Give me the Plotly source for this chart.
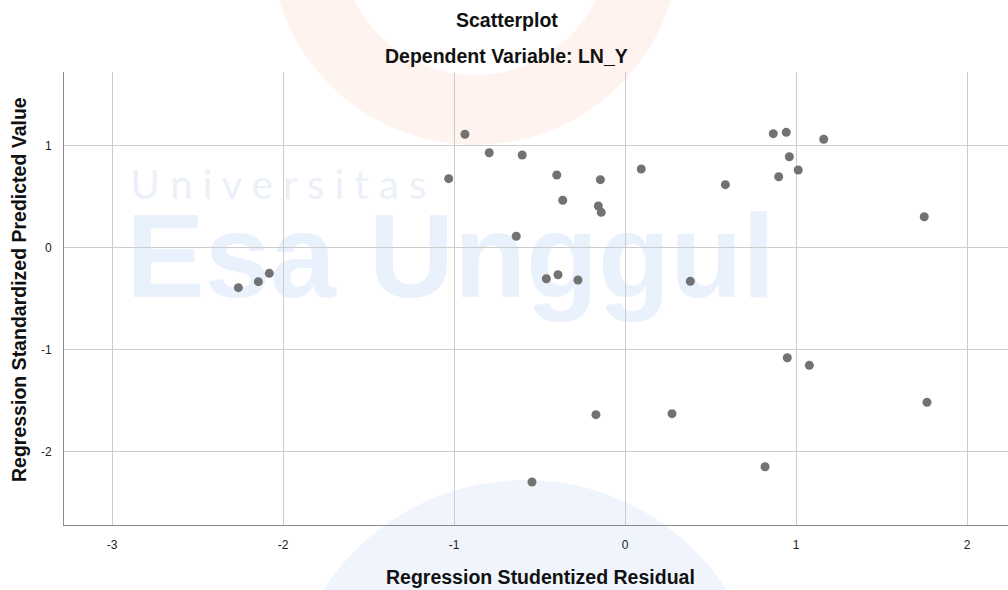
import plotly.graph_objects as go

# Data (Regression Studentized Residual vs Standardized Predicted Value)
studentized_residual = [
    -2.261, -2.144, -2.080, -1.031, -0.936, -0.794, -0.601, -0.399, -0.144, 0.095,
    0.587, -0.364, -0.156, -0.139, -0.636, -0.460, -0.392, -0.275, 0.382, 0.867,
    0.943, 1.162, 0.961, 1.013, 0.899, 1.750, 0.949, 1.078, 1.766, -0.170,
    0.275, 0.819, -0.544,
]
standardized_predicted = [
    -0.396, -0.337, -0.255, 0.673, 1.108, 0.927, 0.905, 0.709, 0.663, 0.768,
    0.614, 0.461, 0.405, 0.343, 0.108, -0.308, -0.269, -0.321, -0.333, 1.114,
    1.127, 1.059, 0.888, 0.758, 0.692, 0.300, -1.083, -1.157, -1.520, -1.641,
    -1.631, -2.151, -2.301,
]
x_ticks = [-3, -2, -1, 0, 1, 2]
y_ticks = [-2, -1, 0, 1]

title_text = "Scatterplot"
subtitle_text = "Dependent Variable: LN_Y"
x_title = "Regression Studentized Residual"
y_title = "Regression Standardized Predicted Value"

W, H = 1008, 590
ML, MR, MT, MB = 64, 0, 72, 65
PW, PH = W - ML - MR, H - MT - MB


def px(x):
    return (x - ML) / PW


def py(y):
    return (H - MB - y) / PH


FONT = "Liberation Sans, Arial, sans-serif"

fig = go.Figure()
fig.add_trace(go.Scatter(
    x=studentized_residual, y=standardized_predicted, mode="markers",
    marker=dict(size=9, color="#727272", line=dict(width=0)),
    showlegend=False, hoverinfo="x+y",
))

shapes = [
    # watermark decorations (very faint)
    dict(type="circle", xref="paper", yref="paper", layer="below",
         x0=px(475 - 170), x1=px(475 + 170), y0=py(-60 + 170), y1=py(-60 - 170),
         line=dict(color="#fef3ef", width=70), fillcolor="rgba(0,0,0,0)"),
    dict(type="circle", xref="paper", yref="paper", layer="below",
         x0=px(525 - 240), x1=px(525 + 240), y0=py(720 + 240), y1=py(720 - 240),
         line=dict(width=0), fillcolor="#f0f5fd"),
    dict(type="rect", xref="paper", yref="paper", layer="below",
         x0=px(131), x1=px(770), y0=py(295), y1=py(195),
         line=dict(width=0), fillcolor="rgba(0,0,0,0)",
         label=dict(text="Esa Unggul", textposition="middle center",
                    font=dict(family=FONT, size=118, color="#e9f1fc", weight="bold"))),
    dict(type="rect", xref="paper", yref="paper", layer="below",
         x0=px(131), x1=px(426), y0=py(205), y1=py(160),
         line=dict(width=0), fillcolor="rgba(0,0,0,0)",
         label=dict(text="U n i v e r s i t a s", textposition="middle center",
                    font=dict(family="Lato, sans-serif", size=40, color="#ebf0f9"))),
]

TS = 19.5
annotations = [
    dict(text=f"<b>{title_text}</b>", xref="paper", yref="paper", x=px(507), y=py(20),
         showarrow=False, xanchor="center", yanchor="middle",
         font=dict(family=FONT, size=TS, color="#111")),
    dict(text=f"<b>{subtitle_text}</b>", xref="paper", yref="paper", x=px(506), y=py(56),
         showarrow=False, xanchor="center", yanchor="middle",
         font=dict(family=FONT, size=TS, color="#111")),
    dict(text=f"<b>{x_title}</b>", xref="paper", yref="paper", x=px(540), y=py(577),
         showarrow=False, xanchor="center", yanchor="middle",
         font=dict(family=FONT, size=TS, color="#111")),
    dict(text=f"<b>{y_title}</b>", xref="paper", yref="paper", x=px(19), y=py(290),
         showarrow=False, xanchor="center", yanchor="middle", textangle=-90,
         font=dict(family=FONT, size=TS, color="#111")),
]

x0_px, x_unit = 625, 171
y0_px, y_unit = 247.3, 102

fig.update_layout(
    width=W, height=H,
    margin=dict(l=ML, r=MR, t=MT, b=MB),
    paper_bgcolor="white", plot_bgcolor="rgba(0,0,0,0)",
    shapes=shapes, annotations=annotations,
    font=dict(family=FONT, size=12, color="#222"),
    xaxis=dict(
        range=[(ML - x0_px) / x_unit, (W - MR - x0_px) / x_unit],
        tickvals=x_ticks, ticktext=[str(v) for v in x_ticks],
        showgrid=True, gridcolor="#cccccc", gridwidth=1,
        zeroline=False, showline=True, linecolor="#8a8a8a", linewidth=1,
        ticks="", ticklabelstandoff=9, tickfont=dict(size=12, color="#222"),
        fixedrange=True,
    ),
    yaxis=dict(
        range=[(y0_px - (H - MB)) / y_unit, (y0_px - MT) / y_unit],
        tickvals=y_ticks, ticktext=[str(v) for v in y_ticks],
        showgrid=True, gridcolor="#cccccc", gridwidth=1,
        zeroline=False, showline=True, linecolor="#8a8a8a", linewidth=1,
        ticks="", ticklabelstandoff=9, tickfont=dict(size=12, color="#222"),
        fixedrange=True,
    ),
)

fig.write_html(
    "out.html",
    config={"displayModeBar": False},
    post_script="document.body.style.margin='0';document.body.style.overflow='hidden';",
)
